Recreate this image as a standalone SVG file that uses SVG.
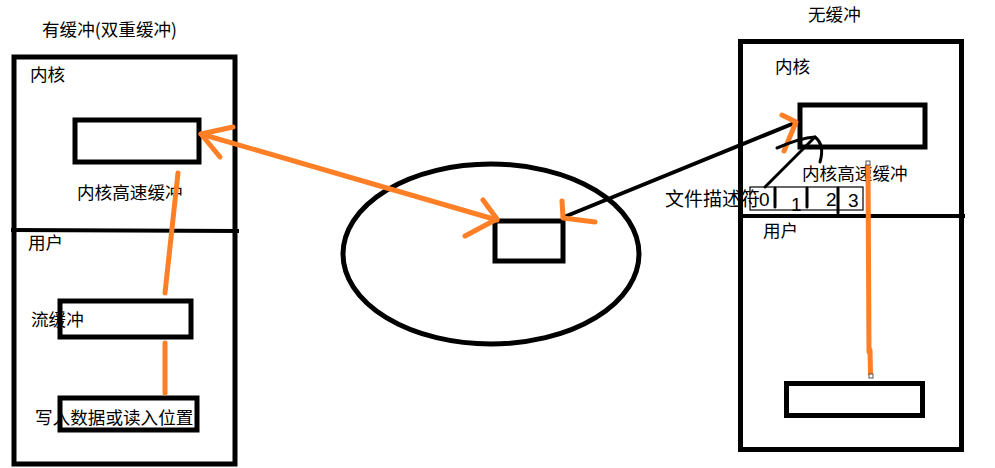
<svg xmlns="http://www.w3.org/2000/svg" width="995" height="468" viewBox="0 0 995 468">
<style>
  .box { fill: none; stroke: #000; stroke-width: 5; }
  .thin { fill: none; stroke: #000; stroke-width: 1.2; }
  .div { stroke: #000; stroke-width: 4; fill: none; }
  .t { font-family: "Noto Sans CJK SC", "Liberation Sans", sans-serif; font-size: 17.6px; fill: #000; }
  .d { font-family: "Liberation Sans", sans-serif; font-size: 19px; fill: #000; }
  .or { stroke: #FF7F27; stroke-width: 5; fill: none; stroke-linecap: round; stroke-linejoin: round; }
  .bk { stroke: #000; stroke-width: 4; fill: none; stroke-linecap: round; stroke-linejoin: round; }
  .bk2 { stroke: #000; stroke-width: 3; fill: none; stroke-linecap: round; }
  .handle { fill: #fff; stroke: #555; stroke-width: 1; }
</style>
<rect width="995" height="468" fill="#fff"/>

<g id="left-panel">
  <text class="t" x="42" y="36">有缓冲(双重缓冲)</text>
  <rect class="box" x="14" y="57" width="221" height="407"/>
  <line class="div" x1="11" y1="230" x2="239" y2="231"/>
  <text class="t" x="30" y="81">内核</text>
  <text class="t" x="28" y="249">用户</text>
</g>
<g id="left-kernel-buffer">
  <rect class="box" x="75" y="120" width="124" height="42"/>
  <text class="t" x="77" y="199">内核高速缓冲</text>
</g>
<g id="left-stream-buffer">
  <rect class="box" x="60" y="301" width="131" height="36"/>
  <text class="t" x="31" y="326">流缓冲</text>
</g>
<g id="left-position">
  <rect class="box" x="60" y="398" width="137" height="32"/>
  <text class="t" x="35" y="424">写入数据或读入位置</text>
</g>

<g id="disk">
  <ellipse class="box" cx="491" cy="254" rx="148" ry="90"/>
  <rect class="box" x="495" y="221" width="68" height="40"/>
</g>

<g id="right-panel">
  <text class="t" x="808" y="21">无缓冲</text>
  <rect class="box" x="740.5" y="41.5" width="221" height="408"/>
  <line class="div" x1="738" y1="216" x2="965" y2="216"/>
  <text class="t" x="775" y="73">内核</text>
  <text class="t" x="763" y="237">用户</text>
</g>
<g id="right-kernel-buffer">
  <rect class="box" x="800" y="105" width="125" height="42"/>
  <text class="t" x="802" y="180">内核高速缓冲</text>
</g>
<g id="fd-table">
  <text class="t" x="665" y="206" style="font-size:19px">文件描述符</text>
  <rect class="thin" x="750" y="187" width="113" height="23"/>
  <text class="d" x="759" y="206">0</text>
  <text class="d" x="791" y="211">1</text>
  <text class="d" x="826" y="206">2</text>
  <text class="d" x="848" y="207">3</text>
  <line class="bk2" x1="775" y1="188" x2="775" y2="207"/>
  <line class="bk2" x1="807" y1="188" x2="807" y2="207"/>
  <line class="bk2" x1="838" y1="188" x2="838" y2="213"/>
</g>
<g id="right-user-buffer">
  <rect class="box" x="786.5" y="383.5" width="136" height="32"/>
</g>

<g id="connectors">
  <line class="or" x1="165" y1="293" x2="178" y2="173"/>
  <line class="or" x1="165" y1="343" x2="165" y2="393"/>
  <line class="or" x1="201" y1="134" x2="497" y2="220"/>
  <polyline class="or" points="233,127 201,134 220,157"/>
  <polyline class="or" points="483,200 497,219 465,236"/>
  <line class="bk" x1="564" y1="217" x2="797" y2="122"/>
  <polyline class="or" points="562,201 563,218 595,222"/>
  <polyline class="or" points="782,115 796,122 784,151"/>
  <line class="bk2" x1="765" y1="187" x2="815" y2="137"/>
  <path class="bk2" d="M777,148 Q800,138 815,137 Q825,145 820,162"/>
  <line class="or" x1="868" y1="165" x2="869" y2="352" stroke-linecap="butt"/>
  <line class="or" x1="870" y1="350" x2="870.5" y2="374" stroke-linecap="butt"/>
  <rect class="handle" x="866" y="161" width="4" height="4"/>
  <rect class="handle" x="869" y="374" width="4" height="4"/>
</g>
</svg>
